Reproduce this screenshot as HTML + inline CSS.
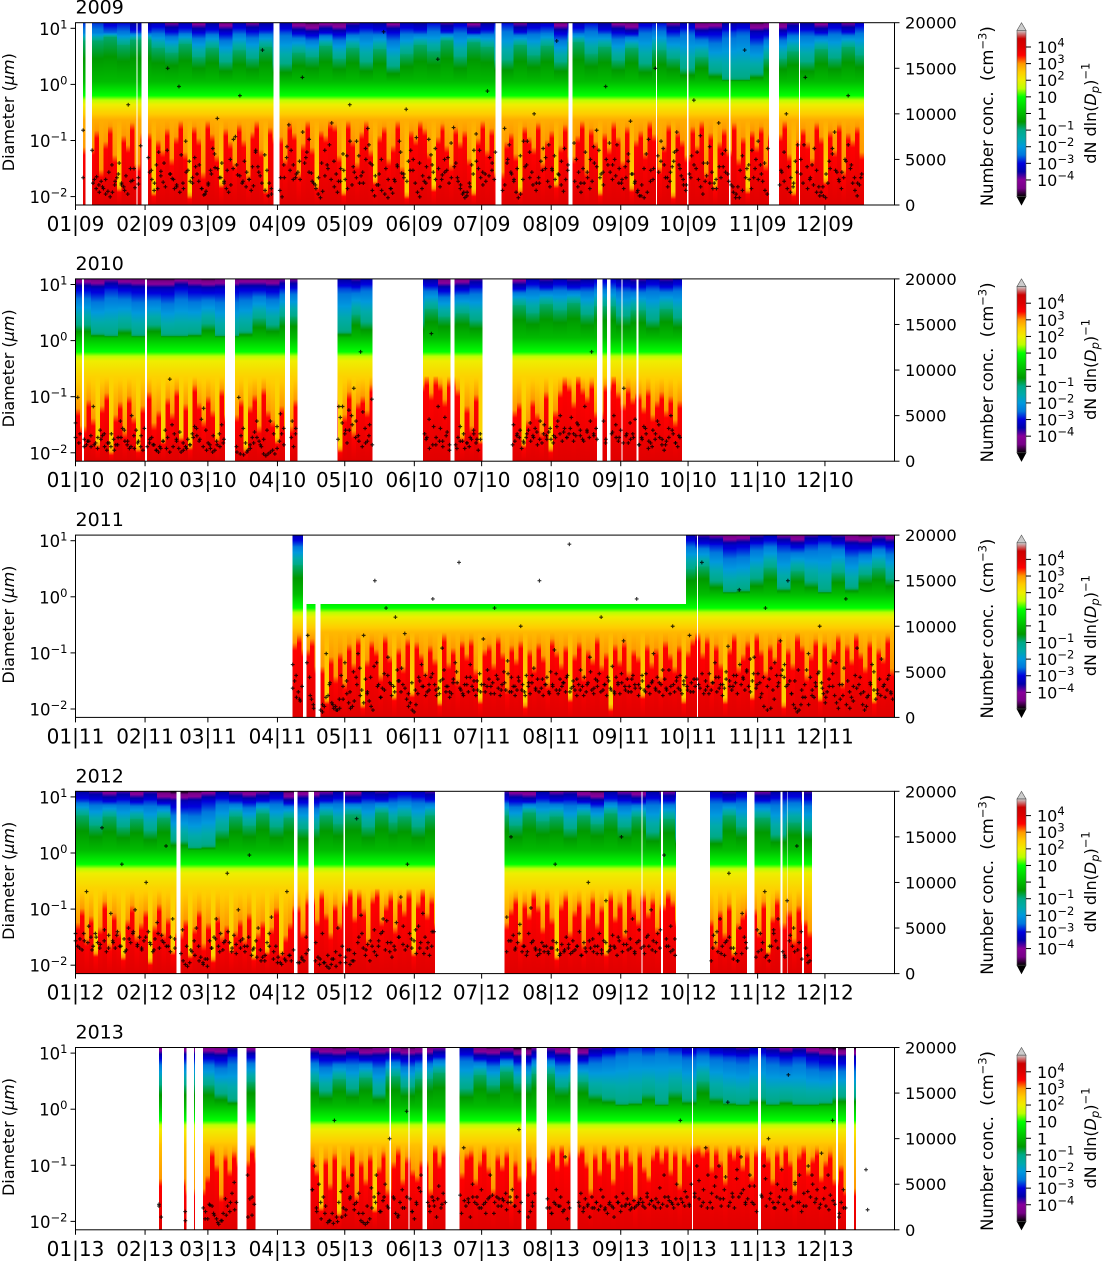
<!DOCTYPE html>
<html lang="en">
<head>
<meta charset="utf-8">
<title>Particle size distribution and number concentration 2009–2013</title>
<style>
html,body{margin:0;padding:0;background:#fff;width:1103px;height:1263px;overflow:hidden}
svg{display:block}
text{font-family:"DejaVu Sans","Liberation Sans",sans-serif;fill:#000;white-space:pre}
</style>
</head>
<body>
<svg id="figure" xmlns="http://www.w3.org/2000/svg" width="1103" height="1263" viewBox="0 0 1103 1263">
<rect width="1103" height="1263" fill="#fff"/>
<defs id="gradients"></defs>
</svg>
<script>
/* ---------- data ---------- */
const yearLabels=["2009","2010","2011","2012","2013"];
const yearSuffix=["09","10","11","12","13"];
const monthStartDays=[0,31,59,90,120,151,181,212,243,273,304,334];
const monthLabels=["01","02","03","04","05","06","07","08","09","10","11","12"];
const diameterTickExponents=[1,0,-1,-2];
const concTicks=[0,5000,10000,15000,20000];
const colorbarExponents=[4,3,2,1,0,-1,-2,-3,-4];

/* measured periods, day of year */
const coverage2009=[[3.4,4.4],[7.4,27.2],[27.7,29.4],[32.4,88.3],[91,187.2],[189.9,219.7],[221.4,258.6],[259.1,272.6],[273.2,291.3],[291.8,309.1],[313.6,322.5],[322.9,351.4]];
const coverage2010=[[0,2.9],[3.8,30.9],[31.8,66.4],[71,93.2],[95.5,99],[116.8,132.4],[154.9,167.1],[168.9,181.4],[194.7,232.5],[234.8,236.8],[238.4,243.3],[243.7,250],[250.9,270.4]];
const coverage2011=[[96.8,101.3],[103,106.8],[109.2,263.5],[263.7,277],[277.5,365]];
const coverage2012=[[0,45],[46.7,97.3],[99,103.9],[106.2,119.5],[120,159.8],[191.2,252.2],[252.6,261],[261.9,267.7],[282.8,299.3],[302.5,313.9],[315,317.2],[317.6,323.8],[324.7,328.3]];
const coverage2013=[[37.2,38.5],[48.3,49.3],[52.7,53.2],[56.8,72.3],[76.3,79.9],[104.8,140],[140.7,148.4],[148.9,154.7],[156.7,164.9],[171.1,198.7],[200.8,205.4],[210.1,220.6],[223.7,274.8],[275.3,304.2],[305.6,339],[339.9,343.4],[347,347.8]];

/* period with no coarse-mode data: [first day, last day, largest diameter in µm] */
const coarseCut2011=[[101.3,272.1,0.74]];

/* diameter (nm) up to which each measured column stays red */
const redTop2009=[55,110,22,70,130,40,12,90,60,150,28,100,10,75,50,120,35,85,170,45,9,130,80,20,160,95,40,14,120,70,30,140,75,18,105,180,50,11,125,85,35,150,100,20,65,190,55,13,110,90,220,140,40,10,170,75,30,105,160,50,16,90,130,35,60,175,25,9,110,80,200,120,45,12,85,145,60,28,125,70,110,35,10,80,165,50,120,20,70,100,42,11,130,85,55,150,30,75,110,14,60,140,38,90,180,22,120,70,10,100,55,155,85,32,130,12,75,110,45,165,95,25,60,140,9,110,75,40,130,60,185,20,100,13,70,120,50,150,35,85,11,110,60,130,28,95,170,42,10,75,120,70,35,150,85,16,110,50,140,22,100,75,130,45];
const redTop2010=[45,22,65,30,12,50,85,9,35,60,18,75,32,10,50,90,25,42,14,70,38,100,16,55,11,120,58,28,75,42,15,100,35,65,10,50,80,22,105,42,28,14,50,22,65,10,35,90,18,58,75,42,120,170,85,200,125,65,145,100,16,50,22,80,14,42,58,12,28,65,38,18,90,10,42,95,150,120,60,170,105,75,135,40,120,160,90,55,110,70,85,48,100,35,62,90,42,75,28,62];
const redTop2011=[110,150,85,130,42,12,62,28,75,22,105,48,135,10,55,120,85,30,145,65,14,90,42,130,16,115,72,35,100,58,11,155,50,90,25,120,70,130,38,12,85,105,48,140,75,18,100,58,120,10,85,42,110,65,22,130,80,48,100,13,70,115,30,85,58,140,45,75,9,105,55,120,35,85,65,15,105,50,90,28,120,72,42,100,12,80,130,200,75,140,25,105,48,12,90,155,42,70,120,14,180,85,35,105,62,140,10,90,48,155,100,30,70,130,13,115,50,85,150,22,105,58,170,75,42,120,12,90,62,145,38];
const redTop2012=[42,75,22,55,14,35,100,18,62,30,12,48,85,25,42,70,10,38,90,28,52,15,28,48,13,35,70,18,42,11,55,25,38,16,30,48,22,62,12,28,45,15,35,78,14,25,42,85,30,115,48,145,62,28,90,42,105,160,55,140,75,22,120,175,48,90,135,35,115,70,150,14,100,165,62,120,42,75,120,22,100,62,145,85,35,115,52,12,90,130,30,70,105,18,62,120,42,85,14,135,55,100,28,165,75,48,130,65,115,35,90,145,105,48,18,70,28,90,14,42,62,75,30,100,15,55,115,42,70,22,85,48,30];
const redTop2013=[42,28,48,140,75,22,115,62,130,90,170,105,62,15,100,35,120,12,75,48,135,22,90,42,115,14,70,130,28,85,145,42,105,62,48,90,28,180,85,135,55,120,135,42,90,150,70,28,115,75,130,18,90,48,105,62,105,145,75,165,90,130,155,85,28,120,62,200,100,42,145,75,180,90,22,130,70,48,115,200,100,155,62,135,35,120,90,150,220,130,170,70,145,90,42,150,115,185,75,130,48,135,165,105,42,135,75,185,90,28,120,155,62,105,145,48,90,130,42,75,28];

/* diameter (tenths of µm) where dark green turns teal */
const tealDiam2009=[60,70,50,62,44,36,52,30,44,24,40,28,46,22,36,30,48,28,44,24,42,20,34,50,38,60,30,56,46,26,50,32,48,24,56,34,46,26,44,22,40,28,18,30,16,12,11,15,28,38,24,42,28,46,32];
const tealDiam2010=[18,13,11,16,12,18,11,10,13,19,10,14,24,18,26,14,28,20,36,26,30,22,42,30,44,34,46,28,40,26,34,22,36,24];
const tealDiam2011=[36,24,30,30,30,30,30,30,30,30,30,30,30,30,30,30,30,30,30,30,30,30,30,30,30,30,30,30,30,34,18,11,13,20,32,14,28,18,12,26,14,24,32,20];
const tealDiam2012=[46,30,44,28,40,24,42,16,11,13,24,44,30,50,28,42,26,46,32,48,28,52,34,44,28,46,30,52,36,44,26,46,32,50,28,44,22,40,18,46,28,42,20,34,24];
const tealDiam2013=[26,18,14,30,20,34,22,36,18,38,24,34,44,22,40,26,46,28,42,24,30,18,15,11,13,18,12,20,14,30,16,13,11,15,11,14,12,10,13,16];

/* log10 of dN/dlnDp at the top of the axis, times ten */
const topExp2009=[-28,-32,-30,-36,-33,-40,-34,-42,-36,-44,-34,-40,-36,-35,-44,-48,-42,-46,-38,-34,-36,-42,-34,-36,-30,-38,-32,-42,-36,-30,-40,-34,-32,-44,-34,-30,-36,-42,-46,-32,-30,-40,-34,-46,-44,-36,-34,-48,-46,-38,-36,-42,-34,-40,-32];
const topExp2010=[-44,-46,-40,-44,-46,-48,-48,-42,-46,-48,-46,-44,-44,-46,-40,-36,-38,-34,-36,-46,-44,-38,-42,-34,-38,-34,-38,-36,-32,-36,-38,-34,-38,-34];
const topExp2011=[-34,-38,-34,-34,-34,-34,-34,-34,-34,-34,-34,-34,-34,-34,-34,-34,-34,-34,-34,-34,-34,-34,-34,-34,-34,-34,-34,-34,-34,-38,-40,-46,-44,-38,-34,-40,-46,-38,-34,-38,-46,-48,-40,-44];
const topExp2012=[-36,-38,-42,-38,-44,-38,-48,-50,-48,-42,-36,-40,-44,-40,-36,-48,-44,-40,-36,-42,-36,-38,-34,-32,-34,-38,-42,-44,-36,-40,-38,-44,-48,-36,-40,-44,-36,-40,-34,-38,-34,-40,-36,-34,-38];
const topExp2013=[-44,-46,-38,-42,-46,-48,-42,-48,-46,-44,-48,-46,-40,-36,-46,-48,-42,-50,-40,-46,-48,-38,-34,-30,-28,-30,-28,-30,-34,-30,-34,-36,-38,-34,-38,-42,-38,-44,-48,-50];

/* log10 of dN/dlnDp at 235 nm, one per year, times ten */
const midLevelByYear=[28,24,27,24,26];

/* number concentration in hundreds of cm^-3, readings in time order over the measured periods */
const conc2009=[82,60,28,31,22,26,18,12,15,9,14,22,30,46,24,20,32,110,40,27,19,23,65,36,28,16,44,58,37,25,20,150,34,29,18,22,130,55,18,70,38,26,24,52,34,44,18,11,15,24,38,62,41,95,30,46,26,18,14,22,40,75,33,120,24,48,36,28,16,21,60,42,32,170,55,38,24,12,16,9,30,52,88,60,44,30,36,28,140,46,58,72,35,24,18,12,8,15,32,44,66,90,48,34,26,40,56,28,18,110,22,36,70,54,32,24,62,84,46,16,10,22,34,50,190,40,28,18,13,26,44,70,35,30,105,48,60,38,24,14,9,18,26,42,72,55,36,28,160,20,33,50,38,24,30,85,46,26,18,12,8,14,24,44,60,78,40,30,22,34,125,52,38,28,16,22,46,66,34,26,14,8,12,28,42,70,58,36,100,24,30,48,62,40,26,20,38,54,180,33,22,15,28,44,68,50,36,24,40,58,30,18,26,46,82,60,34,22,130,44,36,28,50,66,40,24,18,30,48,92,34,26,14,10,22,40,56,72,38,28,150,36,48,62,30,20,26,42,58,80,44,32,22,16,34,54,115,40,28,20,12,26,46,64,36,24,18,90,30,42,60,34,22,14,8,20,38,54,170,40,28,18,30,50,70,44,26,16,12,22,36,58,100,42,30,20,48,66,34,24,140,18,28,44,62,38,20,14,10,8,24,40,56,80,36,26,18,30,48,120,40,24,16,10,22,34];
const conc2010=[42,70,30,24,18,22,16,60,20,26,34,28,16,12,20,30,24,18,26,44,36,22,18,14,50,28,34,22,16,12,16,20,26,18,12,10,14,22,34,26,90,40,30,22,14,10,12,16,24,18,30,38,28,22,46,58,34,20,14,10,12,18,30,40,24,16,70,28,36,20,12,18,26,32,44,22,16,8,6,8,10,12,8,14,22,30,18,26,16,36,24,48,60,30,20,34,50,80,44,28,120,54,36,22,40,68,30,26,46,140,38,18,60,36,22,48,32,12,18,26,38,22,14,20,16,24,30,20,12,24,18,22,30,26,14,20,26,34,22,28,36,18,24,20,40,28,32,24,20,26,44,30,22,36,26,30,48,22,28,40,34,24,60,32,26,120,28,36,44,24,30,50,26,22,34,80,28,20,24,30,46,18,26,38,30,14,20,34,24,44,26,18,12,22,36,50,30,20,16,26];
const conc2011=[58,40,22,28,18,34,90,44,20,14,8,6,12,70,24,38,16,10,12,8,20,46,34,60,26,16,10,12,18,44,70,54,30,90,42,28,18,12,8,150,60,36,22,32,48,120,66,38,24,34,110,52,40,28,36,92,20,12,16,8,6,14,26,40,58,34,46,28,30,44,130,36,24,32,40,76,52,28,34,22,26,42,60,38,170,30,26,36,44,28,58,34,40,24,30,48,36,86,28,34,42,26,38,120,46,32,24,36,50,30,62,28,44,34,24,30,40,100,36,28,46,34,26,38,54,30,42,150,32,24,36,44,28,50,36,74,30,26,42,34,38,28,46,190,32,40,30,24,36,52,34,44,28,38,66,30,26,42,34,48,110,30,36,24,40,32,56,28,44,36,26,38,84,30,42,34,28,46,36,130,24,32,40,30,48,34,26,38,70,32,44,28,36,24,42,30,52,34,100,28,40,32,46,26,36,44,30,90,38,28,34,42,32,170,26,40,34,48,30,38,60,28,44,36,24,32,42,78,34,30,46,38,26,140,36,44,30,52,34,28,40,66,32,48,38,26,44,120,34,42,54,30,60,46,38,84,52,44,34,150,40,26,14,10,6,8,14,22,36,52,70,44,30,22,34,48,100,38,26,16,28,42,62,34,24,16,10,20,36,54,130,40,28,22,34,46,76,36,26,14,8,12,24,38,58,30,20,26,42,64,34,22,30,46,28,20];
const conc2012=[44,30,38,26,36,90,52,40,30,44,34,28,160,36,24,42,66,34,28,46,30,120,38,26,50,34,44,70,30,40,26,36,100,46,32,24,38,56,28,42,34,140,30,40,60,28,22,14,10,8,12,24,36,50,30,18,12,16,8,36,28,40,60,30,44,26,36,110,34,24,42,32,70,28,38,24,30,130,20,28,36,50,26,18,14,34,44,62,24,30,18,12,22,16,90,20,14,26,12,18,14,40,26,34,18,16,44,12,8,6,10,16,24,50,20,30,12,26,10,14,22,170,40,64,28,20,32,14,30,48,20,36,44,60,26,34,24,18,30,56,40,84,32,26,120,44,28,36,22,52,34,66,40,28,20,30,46,24,36,150,42,28,34,54,24,30,20,44,72,36,28,20,26,34,24,30,22,28,36,120,26,20,32,24,40,28,22,36,26,30,46,20,34,24,100,28,38,30,22,44,26,36,80,24,30,42,28,20,36,150,32,46,26,38,60,24,34,48,28,22,40,30,70,36,24,44,28,130,38,30,52,26,20,14,42,34,24,60,30,20,36,110,28,16,22,14,50,66,40,28,18,24,44,34,90,20,14,30,48,36,60,24,18,80,42,30,24,140,34,46,28,20,14];
const conc2013=[28,14,10,24,20,12,27,26,16,12,6,10,18,34,26,20,40,52,30,60,34,16,28,44,70,20,50,12,36,26,8,10,18,120,14,30,42,24,16,48,34,60,22,30,18,10,8,6,8,12,24,36,60,40,20,32,50,26,100,36,18,14,30,44,24,130,34,20,12,28,46,60,30,20,36,26,14,48,24,40,30,18,90,26,34,14,50,30,36,24,44,28,18,34,60,38,30,36,34,26,32,40,30,36,44,26,36,110,30,38,20,26,40,34,24,18,30,44,26,36,20,80,12,24,30,40,20,34,26,14,36,24,30,22,44,36,24,18,30,26,14,36,30,20,40,26,34,28,24,32,26,28,34,30,24,36,28,32,26,34,30,24,28,36,26,32,30,24,34,28,120,30,26,36,28,50,40,70,34,26,44,90,60,30,24,48,36,70,26,34,58,140,30,40,24,56,36,80,44,28,34,60,30,48,20,36,70,26,100,40,30,24,50,36,66,28,44,170,34,26,50,30,60,20,40,26,70,36,50,30,44,24,84,34,26,60,38,120,28,14,30,44,24];
const concNight2009=[30,24,18,14,20,28,36,44,26,34,22,16,12,26,40,30,52,38,24,18,32,46,60,34,28,20,14,24,36,48,30,42,26,18,12,22,34,56,40,30,24,38,50,72,44,32,26,20,28,42,58,36,24,16,10,18,30,44,64,38,28,34,48,80,52,36,26,22,30,46,60,40,28,20,14,26,38,54,70,42,30,24,36,50,66,44,32,22,16,12,8,18,28,42,58,34,26,38,50,74,46,32,24,30,44,62,40,28,36,52,68,42,30,22,14,10,20,34,48,60,36,26,32,46,58,84,50,36,28,40,54,70,44,30,22,16,24,38,52,66,40,28,34,48,62,38,26,20,14,24,36,50,64,42,30,36,50,68,44,32,24,28,42,56,34,24,16,10,8,14,26,40,54,70,44,30,36,48,60,40,28,22,30,44,58,76,46,32,24,18,28,42,56,36,26,20,12,8,16,30,44,60,40,28,34,46,62,38,26,18,14,24,36,50,66,42,30,22,14,10,20,34,48,62,38,28,36,50,66,44,30,24,30];
const concNight2010=[26,20,16,22,28,18,14,24,30,20,16,12,18,26,34,22,16,14,20,28,36,24,18,12,16,22,14,10,16,24,32,20,14,18,26,36,24,16,12,18,28,22,16,20,10,8,7,10,14,20,26,18,24,34,44,30,38,52,36,44,30,60,42,34,56,40,26,22,16,20,28,18,24,14,18,26,22,16,28,18,14,22,30,20,26,34,24,30,40,28,34,22,30,42,26,32,44,30,24,36,28,38,50,32,26,36,30,42,28,22,34,44,30,24,20,32,40,26,20,30,42,26,18,24,36,22,16,30,40,24,18,26,34,20,28];
const concNight2011=[32,46,20,60,24,10,14,22,36,14,8,10,20,40,28,50,36,24,16,26,44,56,34,22,30,46,36,28,40,54,32,26,38,30,44,34,24,36,48,30,26,42,34,28,38,50,32,24,36,44,30,40,28,36,52,34,26,42,30,38,48,28,34,44,30,24,38,46,32,28,42,36,26,34,48,30,38,44,28,34,42,30,24,36,50,32,40,28,36,44,30,26,38,48,34,28,42,32,36,46,28,34,40,30,38,52,32,26,36,44,30,40,34,28,42,36,48,30,26,38,44,32,36,50,40,34,46,58,42,50,64,48,36,22,12,8,10,20,34,46,58,36,26,40,52,30,22,14,24,38,50,32,22,34,48,60,36,24,14,10,18,32,44,28,22,36,50,30,24,36,42,26];
const concNight2012=[36,28,44,34,26,40,32,48,28,36,42,30,24,38,46,32,28,40,34,26,44,36,30,24,38,48,30,26,20,14,10,16,28,38,24,34,46,28,22,36,30,40,26,18,14,20,30,16,12,10,14,20,12,16,22,14,10,12,20,16,8,12,18,26,14,34,44,26,36,24,30,46,58,34,26,40,52,30,38,48,28,22,34,46,62,36,26,44,30,24,34,26,22,30,24,28,34,22,26,32,24,30,20,28,36,24,30,22,34,26,30,40,24,32,28,22,36,30,42,26,34,48,30,24,38,28,46,22,34,40,28,14,22,34,48,26,18,30,44,28,20,36,50,26,16,12];
const concNight2013=[26,20,12,28,18,8,10,16,30,22,14,36,44,24,30,18,10,7,9,14,22,36,28,40,18,26,46,30,20,36,24,34,16,24,36,20,30,42,26,32,34,28,38,32,30,36,28,24,30,36,18,26,34,22,30,26,20,14,30,24,18,28,26,22,30,26,24,28,24,30,26,22,28,24,30,26,28,22,24,30,26,40,32,24,46,60,36,28,50,34,42,26,36,54,30,24,40,58,34,44,26,36,66,40,30,48,28,38,56,34,24,30,44,22,36,52,30,26,42,60,34,28,46,22,32,18,24];
const extraDays2013=[352.3,353];
const extraConc2013=[66,22];

/* nipy_spectral colormap channels at steps of 0.05 */
const cmapRed=[0,.4667,.5333,0,0,0,0,0,0,0,0,0,0,.7333,.9333,1,1,1,.8667,.8,.8];
const cmapGreen=[0,0,0,0,0,.4667,.6,.6667,.6667,.6,.7333,.8667,1,1,.9333,.8,.6,0,0,0,.8];
const cmapBlue=[0,.5333,.6,.6667,.8667,.8667,.8667,.6667,.5333,0,0,0,0,0,0,0,0,0,0,0,.8];

const panels=[
 {coverage:coverage2009,cuts:[],redTop:redTop2009,teal:tealDiam2009,top:topExp2009,conc:[conc2009,concNight2009],extraDays:[],extraConc:[]},
 {coverage:coverage2010,cuts:[],redTop:redTop2010,teal:tealDiam2010,top:topExp2010,conc:[conc2010,concNight2010],extraDays:[],extraConc:[]},
 {coverage:coverage2011,cuts:coarseCut2011,redTop:redTop2011,teal:tealDiam2011,top:topExp2011,conc:[conc2011,concNight2011],extraDays:[],extraConc:[]},
 {coverage:coverage2012,cuts:[],redTop:redTop2012,teal:tealDiam2012,top:topExp2012,conc:[conc2012,concNight2012],extraDays:[],extraConc:[]},
 {coverage:coverage2013,cuts:[],redTop:redTop2013,teal:tealDiam2013,top:topExp2013,conc:[conc2013,concNight2013],extraDays:extraDays2013,extraConc:extraConc2013}
];

/* ---------- layout ---------- */
const NS='http://www.w3.org/2000/svg';
const svg=document.getElementById('figure');
const defs=document.getElementById('gradients');
const PLOT_LEFT=75.5,PLOT_RIGHT=894.5,PLOT_HEIGHT=182.3,FIRST_TOP=22.7,PANEL_STEP=256.2;
const LOG_TOP=1.1,LOG_BOTTOM=-2.15;
const CBAR_LEFT=1017,CBAR_RIGHT=1026;
let gradientCount=0;

function make(tag,attrs,parent){
  const el=document.createElementNS(NS,tag);
  for(const k in attrs)el.setAttribute(k,attrs[k]);
  (parent||svg).appendChild(el);
  return el;
}
function sup(textEl,value,size,shift){
  const t=make('tspan',{'font-size':size,dy:-shift},textEl);
  t.textContent=value;
  return t;
}
function cmapColor(v){
  const t=Math.max(0,Math.min(20,(v+5)/10*20));
  const i=Math.min(19,Math.floor(t)),f=t-i;
  const ch=a=>Math.round(255*(a[i]+(a[i+1]-a[i])*f));
  return 'rgb('+ch(cmapRed)+','+ch(cmapGreen)+','+ch(cmapBlue)+')';
}
function profile(redNm,tealTenths,topTen,midLevel){
  const mid=midLevel/10;
  const rt=Math.max(-2.14,Math.min(-0.8,Math.log10(redNm/1000)));
  const tl=Math.max(0.09,Math.min(0.85,Math.log10(tealTenths/10)));
  const shoulder=redNm<17?Math.min(mid,2.4):3.0;
  const top=topTen/10;
  return [[LOG_BOTTOM,3.95],[rt,3.5],[Math.min(rt+0.14,-0.66),shoulder],[-0.63,mid],[-0.36,2.0],[-0.2,1.0],[0.05,0],[tl,-0.9],[0.92,-2.0+0.45*(top+2)],[LOG_TOP,top]];
}
function addGradient(id,pts,y1,y2){
  const g=make('linearGradient',{id:id,gradientUnits:'userSpaceOnUse',x1:0,x2:0,y1:y1,y2:y2},defs);
  const add=(l,v)=>make('stop',{offset:((LOG_TOP-l)/(LOG_TOP-LOG_BOTTOM)).toFixed(4),'stop-color':cmapColor(v)},g);
  for(let i=pts.length-1;i>0;i--){
    const [l1,v1]=pts[i],[l0,v0]=pts[i-1];
    add(l1,v1);
    const lo=Math.min(v0,v1),hi=Math.max(v0,v1);
    const ks=[];
    for(let k=Math.ceil(lo*2)/2;k<hi;k+=0.5){
      if(k>lo)ks.push(k);
    }
    if(v0<v1)ks.reverse();
    ks.forEach(k=>add(l1+(k-v1)/(v0-v1)*(l0-l1),k));
  }
  add(pts[0][0],pts[0][1]);
}
function drawMarker(parent,x,y){
  const m=make('path',{d:'M'+(x-1.9).toFixed(2)+' '+y.toFixed(2)+'h3.8M'+x.toFixed(2)+' '+(y-1.9).toFixed(2)+'v3.8',stroke:'#000','stroke-width':1.15,'stroke-opacity':0.8,fill:'none'},parent);
  return m;
}

panels.forEach((p,pi)=>{
  const top=FIRST_TOP+PANEL_STEP*pi,bottom=top+PLOT_HEIGHT;
  const xScale=d=>PLOT_LEFT+(PLOT_RIGHT-PLOT_LEFT)*d/365;
  const yLog=l=>top+(LOG_TOP-l)/(LOG_TOP-LOG_BOTTOM)*PLOT_HEIGHT;
  const yConc=c=>bottom-c/20000*PLOT_HEIGHT;

  const group=make('g',{});
  
  

  /* heatmap columns */
  const heat=make('g',{'shape-rendering':'crispEdges'},group);
  
  
  const total=p.coverage.reduce((s,c)=>s+c[1]-c[0],0);
  const colDays=total/p.redTop.length;
  let done=0;
  p.coverage.forEach(([a,b])=>{
    let d=a;
    while(d<b-1e-6){
      const pos=done+d-a;
      const idx=Math.min(p.redTop.length-1,Math.floor(pos/colDays+1e-9));
      let end=Math.min(b,a+(idx+1)*colDays-done);
      if(end<=d+1e-6)end=Math.min(b,d+colDays);
      const frac=pos/total;
      const teal=p.teal[Math.min(p.teal.length-1,Math.floor(frac*p.teal.length))];
      const topE=p.top[Math.min(p.top.length-1,Math.floor(frac*p.top.length))];
      const gradId='col'+(gradientCount++);
      addGradient(gradId,profile(p.redTop[idx],teal,topE,midLevelByYear[pi]),top,bottom);
      let yTop=top;
      p.cuts.forEach(c=>{
        if((d+end)/2>=c[0]&&(d+end)/2<=c[1])yTop=yLog(Math.log10(c[2]));
      });
      const rect=make('rect',{x:xScale(d).toFixed(2),y:yTop.toFixed(2),width:Math.max(1,xScale(end)-xScale(d)).toFixed(2),height:(bottom-yTop).toFixed(2),fill:'url(#'+gradId+')'},heat);
      
      
      d=end;
    }
    done+=b-a;
  });

  /* number concentration points */
  const dots=make('g',{},group);
  
  
  p.conc.forEach(series=>{
    const dotStep=total/series.length;
    let walked=0;
    p.coverage.forEach(([a,b])=>{
      const span=b-a;
      for(let i=Math.ceil(walked/dotStep-1e-9);i<series.length&&i*dotStep<walked+span;i++){
        const day=a+i*dotStep-walked;
        const c=drawMarker(dots,xScale(day),yConc(series[i]*100));
        
        
      }
      walked+=span;
    });
  });
  p.extraDays.forEach((day,i)=>{
    const c=drawMarker(dots,xScale(day),yConc(p.extraConc[i]*100));
    
    
  });

  /* frame */
  const frame=make('rect',{x:PLOT_LEFT,y:top,width:PLOT_RIGHT-PLOT_LEFT,height:PLOT_HEIGHT,fill:'none',stroke:'#000','stroke-width':1},group);
  
  

  /* title */
  const title=make('text',{x:PLOT_LEFT,y:top-9,'font-size':19},group);
  title.textContent=yearLabels[pi];
  
  

  /* x ticks */
  monthStartDays.forEach((day,i)=>{
    const x=xScale(day);
    const tick=make('line',{x1:x,x2:x,y1:bottom,y2:bottom+5,stroke:'#000','stroke-width':1},group);
    
    
    const lab=make('text',{x:x,y:bottom+26,'font-size':20,'text-anchor':'middle'},group);
    lab.textContent=monthLabels[i]+'|'+yearSuffix[pi];
    
    
  });

  /* left diameter axis */
  diameterTickExponents.forEach(e=>{
    const y=yLog(e);
    const tick=make('line',{x1:PLOT_LEFT-5,x2:PLOT_LEFT,y1:y,y2:y,stroke:'#000','stroke-width':1},group);
    
    
    const lab=make('text',{x:PLOT_LEFT-8,y:y+6.5,'font-size':16.5,'text-anchor':'end'},group);
    lab.textContent='10';
    sup(lab,String(e).replace('-','\u2212'),11.5,6.5);
    
    
  });
  const leftTitle=make('text',{transform:'translate(14,'+(top+89.5)+') rotate(-90)','font-size':16,'text-anchor':'middle'},group);
  leftTitle.textContent='Diameter (';
  const mu=make('tspan',{'font-style':'italic'},leftTitle);
  mu.textContent='\u00b5m';
  const close=make('tspan',{},leftTitle);
  close.textContent=')';
  
  

  /* right concentration axis */
  concTicks.forEach(v=>{
    const y=yConc(v);
    const tick=make('line',{x1:PLOT_RIGHT,x2:PLOT_RIGHT+5,y1:y,y2:y,stroke:'#000','stroke-width':1},group);
    
    
    const lab=make('text',{x:PLOT_RIGHT+10.5,y:y+6,'font-size':16.3},group);
    lab.textContent=String(v);
    
    
  });
  const rightTitle=make('text',{transform:'translate(993,'+(top+93.5)+') rotate(-90)','font-size':16.4,'text-anchor':'middle'},group);
  rightTitle.textContent='Number conc.  (cm';
  sup(rightTitle,'\u22123',11.5,6.5);
  const rightClose=make('tspan',{dy:6.5},rightTitle);
  rightClose.textContent=')';
  
  

  /* colorbar */
  const cbY=v=>top+24.3+(4-v)*16.62;
  const cbId='cbar'+pi;
  const grad=make('linearGradient',{id:cbId,gradientUnits:'userSpaceOnUse',x1:0,x2:0,y1:cbY(5),y2:cbY(-5)},defs);
  for(let k=0;k<=20;k++){
    make('stop',{offset:k/20,'stop-color':cmapColor(5-k/2)},grad);
  }
  const cb=make('g',{},group);
  
  
  const upTip=make('polygon',{points:CBAR_LEFT+','+cbY(5)+' '+(CBAR_LEFT+CBAR_RIGHT)/2+','+top+' '+CBAR_RIGHT+','+cbY(5),fill:'#ccc',stroke:'#555','stroke-width':0.6},cb);
  
  
  const downTip=make('polygon',{points:CBAR_LEFT+','+cbY(-5)+' '+(CBAR_LEFT+CBAR_RIGHT)/2+','+bottom+' '+CBAR_RIGHT+','+cbY(-5),fill:'#000',stroke:'#000','stroke-width':0.6},cb);
  
  
  const bar=make('rect',{x:CBAR_LEFT,y:cbY(5),width:CBAR_RIGHT-CBAR_LEFT,height:cbY(-5)-cbY(5),fill:'url(#'+cbId+')',stroke:'#555','stroke-width':0.6},cb);
  
  
  colorbarExponents.forEach(e=>{
    const y=cbY(e);
    const tick=make('line',{x1:CBAR_RIGHT,x2:CBAR_RIGHT+5,y1:y,y2:y,stroke:'#000','stroke-width':1},cb);
    
    
    const lab=make('text',{x:CBAR_RIGHT+11,y:y+6,'font-size':16},cb);
    if(e===0)lab.textContent='1';
    else if(e===1)lab.textContent='10';
    else{
      lab.textContent='10';
      sup(lab,String(e).replace('-','\u2212'),11.5,6.5);
    }
    
    
  });
  const cbTitle=make('text',{transform:'translate(1096,'+(top+90.5)+') rotate(-90)','font-size':16,'text-anchor':'middle'},group);
  cbTitle.textContent='dN dln(';
  const dp=make('tspan',{'font-style':'italic'},cbTitle);
  dp.textContent='D';
  const sub=make('tspan',{'font-style':'italic','font-size':11.5,dy:3},cbTitle);
  sub.textContent='p';
  const paren=make('tspan',{dy:-3},cbTitle);
  paren.textContent=')';
  sup(cbTitle,'\u22121',11.5,6.5);
  
  
});
</script>
</body>
</html>
